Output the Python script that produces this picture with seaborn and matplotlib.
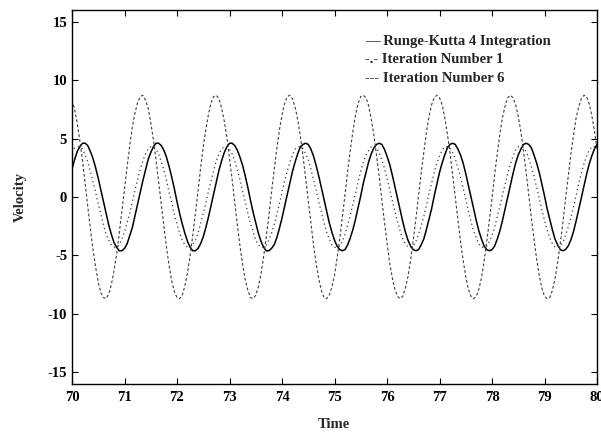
import numpy as np
import pandas as pd
import matplotlib
matplotlib.use("Agg")
import matplotlib.pyplot as plt
import seaborn as sns

# Sampled velocities, t = 70 ... 80 in steps of 0.05
time = np.linspace(70.0, 80.0, 201)

rk4_velocity = [
    2.4, 3.2, 3.9, 4.3, 4.6, 4.6, 4.4, 3.9, 3.3, 2.5,
    1.6, 0.6, -0.4, -1.4, -2.4, -3.2, -3.9, -4.3, -4.6, -4.6,
    -4.4, -4.0, -3.3, -2.6, -1.6, -0.6, 0.4, 1.4, 2.3, 3.2,
    3.8, 4.3, 4.6, 4.6, 4.4, 4.0, 3.4, 2.6, 1.7, 0.7,
    -0.4, -1.4, -2.3, -3.1, -3.8, -4.3, -4.6, -4.6, -4.4, -4.0,
    -3.4, -2.6, -1.7, -0.7, 0.3, 1.3, 2.3, 3.1, 3.8, 4.3,
    4.6, 4.6, 4.4, 4.0, 3.4, 2.7, 1.8, 0.8, -0.3, -1.3,
    -2.2, -3.1, -3.8, -4.3, -4.6, -4.6, -4.4, -4.1, -3.5, -2.7,
    -1.8, -0.8, 0.2, 1.2, 2.2, 3.0, 3.7, 4.3, 4.5, 4.6,
    4.5, 4.1, 3.5, 2.7, 1.8, 0.8, -0.2, -1.2, -2.2, -3.0,
    -3.7, -4.2, -4.5, -4.6, -4.5, -4.1, -3.5, -2.8, -1.9, -0.9,
    0.1, 1.2, 2.1, 3.0, 3.7, 4.2, 4.5, 4.6, 4.5, 4.1,
    3.5, 2.8, 1.9, 0.9, -0.1, -1.1, -2.1, -3.0, -3.7, -4.2,
    -4.5, -4.6, -4.5, -4.1, -3.6, -2.8, -1.9, -1.0, 0.1, 1.1,
    2.1, 2.9, 3.6, 4.2, 4.5, 4.6, 4.5, 4.1, 3.6, 2.9,
    2.0, 1.0, 0.0, -1.0, -2.0, -2.9, -3.6, -4.2, -4.5, -4.6,
    -4.5, -4.2, -3.6, -2.9, -2.0, -1.0, 0.0, 1.0, 2.0, 2.9,
    3.6, 4.1, 4.5, 4.6, 4.5, 4.2, 3.6, 2.9, 2.1, 1.1,
    0.1, -1.0, -1.9, -2.8, -3.6, -4.1, -4.5, -4.6, -4.5, -4.2,
    -3.7, -3.0, -2.1, -1.1, -0.1, 0.9, 1.9, 2.8, 3.5, 4.1,
    4.5,
]

iteration1_velocity = [
    3.8, 4.2, 4.3, 4.3, 4.1, 3.6, 3.0, 2.2, 1.3, 0.4,
    -0.6, -1.5, -2.4, -3.2, -3.7, -4.1, -4.3, -4.3, -4.1, -3.6,
    -3.0, -2.2, -1.4, -0.4, 0.6, 1.5, 2.4, 3.1, 3.7, 4.1,
    4.3, 4.3, 4.1, 3.7, 3.0, 2.3, 1.4, 0.4, -0.5, -1.5,
    -2.3, -3.1, -3.7, -4.1, -4.3, -4.3, -4.1, -3.7, -3.1, -2.3,
    -1.4, -0.5, 0.5, 1.4, 2.3, 3.1, 3.7, 4.1, 4.3, 4.3,
    4.1, 3.7, 3.1, 2.3, 1.5, 0.5, -0.4, -1.4, -2.3, -3.0,
    -3.7, -4.1, -4.3, -4.3, -4.1, -3.7, -3.1, -2.4, -1.5, -0.6,
    0.4, 1.4, 2.2, 3.0, 3.6, 4.1, 4.3, 4.3, 4.1, 3.7,
    3.2, 2.4, 1.5, 0.6, -0.4, -1.3, -2.2, -3.0, -3.6, -4.1,
    -4.3, -4.3, -4.2, -3.8, -3.2, -2.4, -1.6, -0.6, 0.3, 1.3,
    2.2, 3.0, 3.6, 4.0, 4.3, 4.3, 4.2, 3.8, 3.2, 2.5,
    1.6, 0.7, -0.3, -1.2, -2.1, -2.9, -3.6, -4.0, -4.3, -4.3,
    -4.2, -3.8, -3.2, -2.5, -1.7, -0.7, 0.3, 1.2, 2.1, 2.9,
    3.5, 4.0, 4.3, 4.3, 4.2, 3.8, 3.3, 2.5, 1.7, 0.8,
    -0.2, -1.2, -2.1, -2.9, -3.5, -4.0, -4.3, -4.3, -4.2, -3.8,
    -3.3, -2.6, -1.7, -0.8, 0.2, 1.1, 2.0, 2.8, 3.5, 4.0,
    4.3, 4.3, 4.2, 3.9, 3.3, 2.6, 1.8, 0.8, -0.1, -1.1,
    -2.0, -2.8, -3.5, -4.0, -4.3, -4.3, -4.2, -3.9, -3.3, -2.6,
    -1.8, -0.9, 0.1, 1.1, 2.0, 2.8, 3.5, 4.0, 4.3, 4.3,
    4.2,
]

iteration6_velocity = [
    8.3, 7.5, 6.3, 4.8, 3.1, 1.2, -0.8, -2.7, -4.5, -6.0,
    -7.3, -8.2, -8.6, -8.7, -8.3, -7.5, -6.3, -4.9, -3.1, -1.2,
    0.7, 2.6, 4.4, 6.0, 7.2, 8.1, 8.6, 8.7, 8.3, 7.6,
    6.4, 4.9, 3.2, 1.3, -0.6, -2.5, -4.3, -5.9, -7.2, -8.1,
    -8.6, -8.7, -8.4, -7.6, -6.5, -5.0, -3.3, -1.4, 0.5, 2.5,
    4.3, 5.8, 7.1, 8.1, 8.6, 8.7, 8.4, 7.6, 6.5, 5.1,
    3.3, 1.5, -0.5, -2.4, -4.2, -5.8, -7.1, -8.0, -8.6, -8.7,
    -8.4, -7.7, -6.6, -5.1, -3.4, -1.6, 0.4, 2.3, 4.1, 5.7,
    7.0, 8.0, 8.6, 8.7, 8.4, 7.7, 6.6, 5.2, 3.5, 1.6,
    -0.3, -2.2, -4.1, -5.7, -7.0, -8.0, -8.6, -8.7, -8.4, -7.7,
    -6.7, -5.2, -3.6, -1.7, 0.2, 2.2, 4.0, 5.6, 7.0, 8.0,
    8.6, 8.7, 8.5, 7.8, 6.7, 5.3, 3.6, 1.8, -0.2, -2.1,
    -3.9, -5.6, -6.9, -7.9, -8.5, -8.7, -8.5, -7.8, -6.8, -5.4,
    -3.7, -1.9, 0.1, 2.0, 3.8, 5.5, 6.9, 7.9, 8.5, 8.7,
    8.5, 7.9, 6.8, 5.4, 3.8, 1.9, 0.0, -1.9, -3.8, -5.4,
    -6.8, -7.9, -8.5, -8.7, -8.5, -7.9, -6.9, -5.5, -3.8, -2.0,
    -0.1, 1.9, 3.7, 5.4, 6.8, 7.8, 8.5, 8.7, 8.5, 7.9,
    6.9, 5.6, 3.9, 2.1, 0.2, -1.8, -3.6, -5.3, -6.7, -7.8,
    -8.5, -8.7, -8.6, -8.0, -7.0, -5.6, -4.0, -2.2, -0.2, 1.7,
    3.6, 5.2, 6.7, 7.7, 8.4, 8.7, 8.6, 8.0, 7.0, 5.7,
    4.1,
]

legend_lines = [
    "\u2014 Runge-Kutta 4 Integration",
    "-.- Iteration Number 1",
    "--- Iteration Number 6",
]
x_ticks = list(range(70, 81))
y_ticks = list(range(-15, 16, 5))

df = pd.DataFrame({
    "Time": time,
    "rk4": rk4_velocity,
    "it1": iteration1_velocity,
    "it6": iteration6_velocity,
})

sns.set_theme(style="ticks")
plt.rcParams["font.family"] = ["Liberation Serif", "DejaVu Serif"]
plt.rcParams["font.weight"] = "bold"
plt.rcParams["axes.unicode_minus"] = False

W, H = 601, 438
fig = plt.figure(figsize=(W / 100, H / 100), dpi=100)
ax = fig.add_axes([72 / W, 1 - 384 / H, (597 - 72) / W, (384 - 10) / H])

sns.lineplot(data=df, x="Time", y="rk4", ax=ax, color="black", lw=1.1)
sns.lineplot(data=df, x="Time", y="it1", ax=ax, color="#3c3c3c", lw=0.9,
             linestyle=(0, (1, 2.5)))
sns.lineplot(data=df, x="Time", y="it6", ax=ax, color="#3c3c3c", lw=0.8,
             linestyle=(0, (2.5, 2)))

ax.set_xlim(70, 80)
ax.set_ylim(-16, 16)
ax.set_xticks(x_ticks)
ax.set_yticks(y_ticks)
ax.tick_params(direction="in", top=True, right=True, length=4, width=0.8,
               labelsize=10.5, colors="black")
ax.tick_params(axis="x", pad=5)
ax.tick_params(axis="y", pad=3.5)
for s in ax.spines.values():
    s.set_color("black")
    s.set_linewidth(1.0)

ax.set_xlabel("")
ax.set_ylabel("")
fig.text(334 / W, 1 - 425 / H, "Time", ha="center", va="center",
         fontsize=10.5, fontweight="bold")
fig.text(20 / W, 1 - 197 / H, "Velocity", ha="center", va="center",
         rotation=90, fontsize=10.5, fontweight="bold")

for i, line in enumerate(legend_lines):
    fig.text(365 / W, 1 - (41 + 18.5 * i) / H, line, ha="left", va="center",
             fontsize=10.5, fontweight="bold")

fig.savefig("out.png", dpi=100)
